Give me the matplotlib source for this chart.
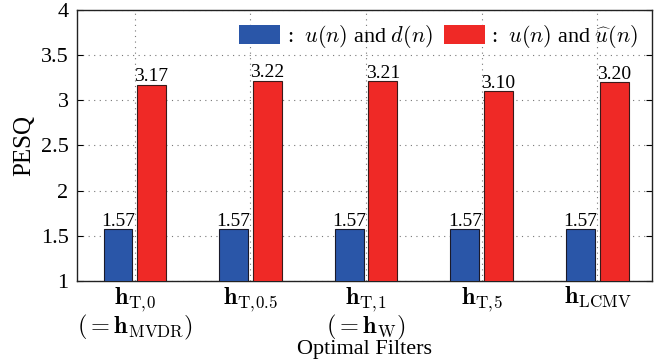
import matplotlib
matplotlib.use("Agg")
import matplotlib.pyplot as plt
import numpy as np
from matplotlib.patches import Patch

plt.rcParams['font.family'] = ['Liberation Serif', 'DejaVu Serif']
plt.rcParams['mathtext.fontset'] = 'cm'

categories = [r'$\mathbf{h}_{\mathrm{T},\!0}$' + '\n' + r'$(=\mathbf{h}_{\mathrm{MVDR}})$',
              r'$\mathbf{h}_{\mathrm{T},\!0.5}$',
              r'$\mathbf{h}_{\mathrm{T},\!1}$' + '\n' + r'$(=\mathbf{h}_{\mathrm{W}})$',
              r'$\mathbf{h}_{\mathrm{T},\!5}$',
              r'$\mathbf{h}_{\mathrm{LCMV}}$']
pesq_ud = [1.57, 1.57, 1.57, 1.57, 1.57]
pesq_uuhat = [3.17, 3.22, 3.21, 3.10, 3.20]
series_labels = [r':  $u(n)$ and $d(n)$', r':  $u(n)$ and $\widehat{u}(n)$']
yticks = [1, 1.5, 2, 2.5, 3, 3.5, 4]
ytick_labels = ['1', '1.5', '2', '2.5', '3', '3.5', '4']

blue = '#2a56a8'
red = '#ef2926'

fig = plt.figure(figsize=(6.63, 3.61), dpi=100)
ax = fig.add_axes([0.116, 0.222, 0.867, 0.75])

x = np.arange(1, len(categories) + 1)
w = 0.25
off = 0.145
ax.bar(x - off, pesq_ud, w, bottom=0, color=blue, edgecolor='#1a1a2a', linewidth=0.8, zorder=3)
ax.bar(x + off, pesq_uuhat, w, bottom=0, color=red, edgecolor='#3a1a1a', linewidth=0.8, zorder=3)

for xi, v in zip(x - off, pesq_ud):
    ax.text(xi, v - 0.005, f'{v:.2f}', ha='center', va='bottom', fontsize=14, zorder=4)
for xi, v in zip(x + off, pesq_uuhat):
    ax.text(xi, v - 0.005, f'{v:.2f}', ha='center', va='bottom', fontsize=14, zorder=4)

ax.set_xlim(0.5, 5.47)
ax.set_ylim(1, 4)
ax.set_yticks(yticks)
ax.set_yticklabels(ytick_labels, fontsize=16)
ax.set_xticks(x)
ax.set_xticklabels(categories, fontsize=17.5, linespacing=0.95)
ax.tick_params(axis='both', direction='in', length=4, top=True, right=True, pad=6)
ax.tick_params(axis='x', length=0, pad=3)
ax.grid(True, linestyle=(0, (1, 4)), color='#777777', linewidth=0.8, zorder=0)
ax.set_axisbelow(True)
for s in ax.spines.values():
    s.set_linewidth(1.0)
    s.set_color('#222222')

ax.set_ylabel('PESQ', fontsize=18, labelpad=4)
ax.set_xlabel('Optimal Filters', fontsize=16, labelpad=-1)

handles = [Patch(facecolor=blue, edgecolor='none'), Patch(facecolor=red, edgecolor='none')]
leg = ax.legend(handles, series_labels, loc='upper right', ncol=2, frameon=False,
                fontsize=16, handlelength=1.85, handleheight=0.95, handletextpad=0.3,
                columnspacing=0.5, bbox_to_anchor=(1.0, 1.0), borderaxespad=0.2)

fig.savefig('out.png', dpi=100)
